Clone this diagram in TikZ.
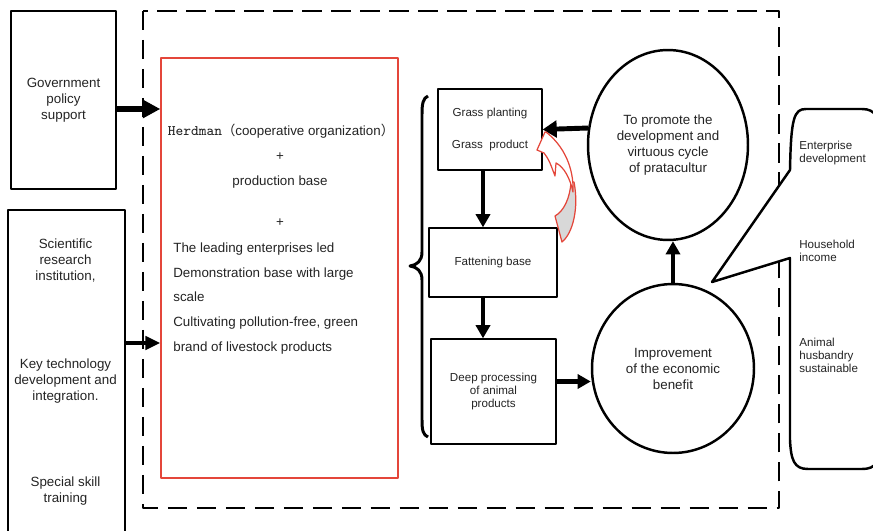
\documentclass[tikz,border=0pt]{standalone}
\usepackage{fontspec}
\setmainfont{Liberation Sans}
\newfontfamily\cjk{Noto Sans CJK SC}
\usetikzlibrary{arrows.meta,shapes.geometric}
\definecolor{boxred}{RGB}{228,70,58}
\definecolor{inkgray}{RGB}{35,35,35}
\definecolor{foldgray}{RGB}{216,216,216}
\tikzset{
  txt/.style={font=\fontsize{7.6}{9.1}\selectfont,text=inkgray,align=center,inner sep=0pt},
  small/.style={font=\fontsize{6.6}{7.5}\selectfont,text=inkgray,inner sep=0pt},
  outer/.style={draw,line width=1.4pt,inner sep=0pt},
  stage/.style={draw,line width=0.75pt,inner sep=0pt,small,align=center},
  bubble/.style={draw,ellipse,line width=1.4pt,inner sep=0pt,txt},
  arr/.style={line width=2.6pt,-{Triangle[length=7.5pt,width=8pt]}},
}
\begin{document}
\begin{tikzpicture}[x=0.02cm,y=-0.02cm,line join=round]
	\useasboundingbox (0,0) rectangle (873,531);
	\clip (0,0) rectangle (873,531);
	% dashed frame
	\draw[line width=1.7pt,dash pattern=on 11pt off 5.5pt] (143,11) rectangle (779,508);
	% support on the left
	\node[outer,txt,minimum width=2.1cm,minimum height=3.56cm] (gov) at (63.5,100) {Government\\policy\\support};
	\node[outer,minimum width=2.34cm,minimum height=7cm] (sci) at (66.5,385) {};
	\node[txt] (sci1) at (65.5,261) {Scientific\\research\\institution,};
	\node[txt] (sci2) at (65.5,381) {Key technology\\development and\\integration.};
	\node[txt] (sci3) at (65.5,491) {Special skill\\training};
	% base box
	\node[draw=boxred,line width=0.8pt,minimum width=4.74cm,minimum height=8.4cm] (base) at (279.5,268) {};
	\node[txt] (herd) at (281,131) {{\ttfamily\fontsize{8.3}{9.1}\selectfont Herdman}{\cjk （}cooperative organization{\cjk ）}};
	\node[txt] (plus1) at (280,157) {+};
	\node[txt] (prod) at (280,182) {production base};
	\node[txt] (plus2) at (280,223) {+};
	\node[txt,align=left,anchor=west,font=\fontsize{7.6}{14.2}\selectfont] (lead) at (173,298.5)
		{The leading enterprises led\\Demonstration base with large\\scale\\Cultivating pollution-free, green\\brand of livestock products};
	\coordinate (govout) at ([yshift=-0.18cm]gov.east);
	\draw[line width=3.2pt,-{Triangle[length=10pt,width=10pt]}] (govout) -- (govout -| base.west);
	\coordinate (sciy) at (0,343);
	\draw[line width=2.4pt,-{Triangle[length=8.5pt,width=7.5pt]}] (sci.east |- sciy) -- (base.west |- sciy);
	% chain
	\draw[line width=1.7pt] (428,96) .. controls (423,98) and (422,104) .. (422,114) -- (422,252)
		.. controls (422,261) and (417,265) .. (410,266) .. controls (417,267) and (422,271) .. (422,280)
		-- (422,420) .. controls (422,430) and (423,435) .. (428,437);
	\node[stage,minimum width=2.08cm,minimum height=1.62cm] (grass) at (490,129.5) {Grass planting\\[11pt]Grass\ \ product};
	\node[stage,minimum width=2.56cm,minimum height=1.38cm] (fatten) at (493,262.5) {Fattening base};
	\node[stage,minimum width=2.5cm,minimum height=2.1cm] (deep) at (493.5,391.5) {Deep processing\\of animal\\products};
	\node[bubble,minimum width=3.2cm,minimum height=3.8cm] (promote) at (668,145)
		{To promote the\\development and\\virtuous cycle\\of pratacultur};
	\node[bubble,minimum width=3.24cm,minimum height=3.38cm] (benefit) at (673,368.5)
		{Improvement\\of the economic\\benefit};
	\draw[arr] ([xshift=-0.14cm]grass.south) -- ([xshift=-0.14cm]grass.south |- fatten.north);
	\draw[arr] ([xshift=-0.2cm]fatten.south) -- ([xshift=-0.2cm]fatten.south |- deep.north);
	\draw[arr] ([yshift=0.2cm]deep.east) -- ([yshift=0.2cm]deep.east -| benefit.west);
	\draw[arr] (benefit.north) -- (benefit.north |- promote.south);
	\draw[line width=2.8pt,-{Triangle[length=8pt,width=9.5pt]}] (promote.168) -- (grass.east);
	% folded red arrow
	\draw[boxred,line width=0.7pt,fill=foldgray] (574,182) .. controls (579,208) and (573,233) .. (562,242)
		-- (555,216) .. controls (564,211) and (570,198) .. (571,182) -- cycle;
	\draw[boxred,line width=0.7pt,fill=white] (545,132) -- (537,150) -- (544,153) .. controls (549,160) .. (555,176)
		-- (556,163) .. controls (564,167) and (570,178) .. (573,192) .. controls (574,168) and (564,146) .. (546,132) -- cycle;
	% callout
	\draw[line width=1.4pt,fill=white] (790,170) .. controls (791,118) and (794,109) .. (806,109) -- (862,109)
		.. controls (876,109) and (880,118) .. (880,140) -- (880,440) .. controls (880,462) and (876,469) .. (862,469)
		-- (808,469) .. controls (794,469) and (791,460) .. (790,440) -- (790,258) -- (712,282) -- cycle;
	\node[small,align=left,anchor=west] (ent) at (799,153) {Enterprise\\development};
	\node[small,align=left,anchor=west] (house) at (799,251) {Household\\income};
	\node[small,align=left,anchor=west] (animal) at (799,355.5) {Animal\\husbandry\\sustainable};
\end{tikzpicture}
\end{document}
